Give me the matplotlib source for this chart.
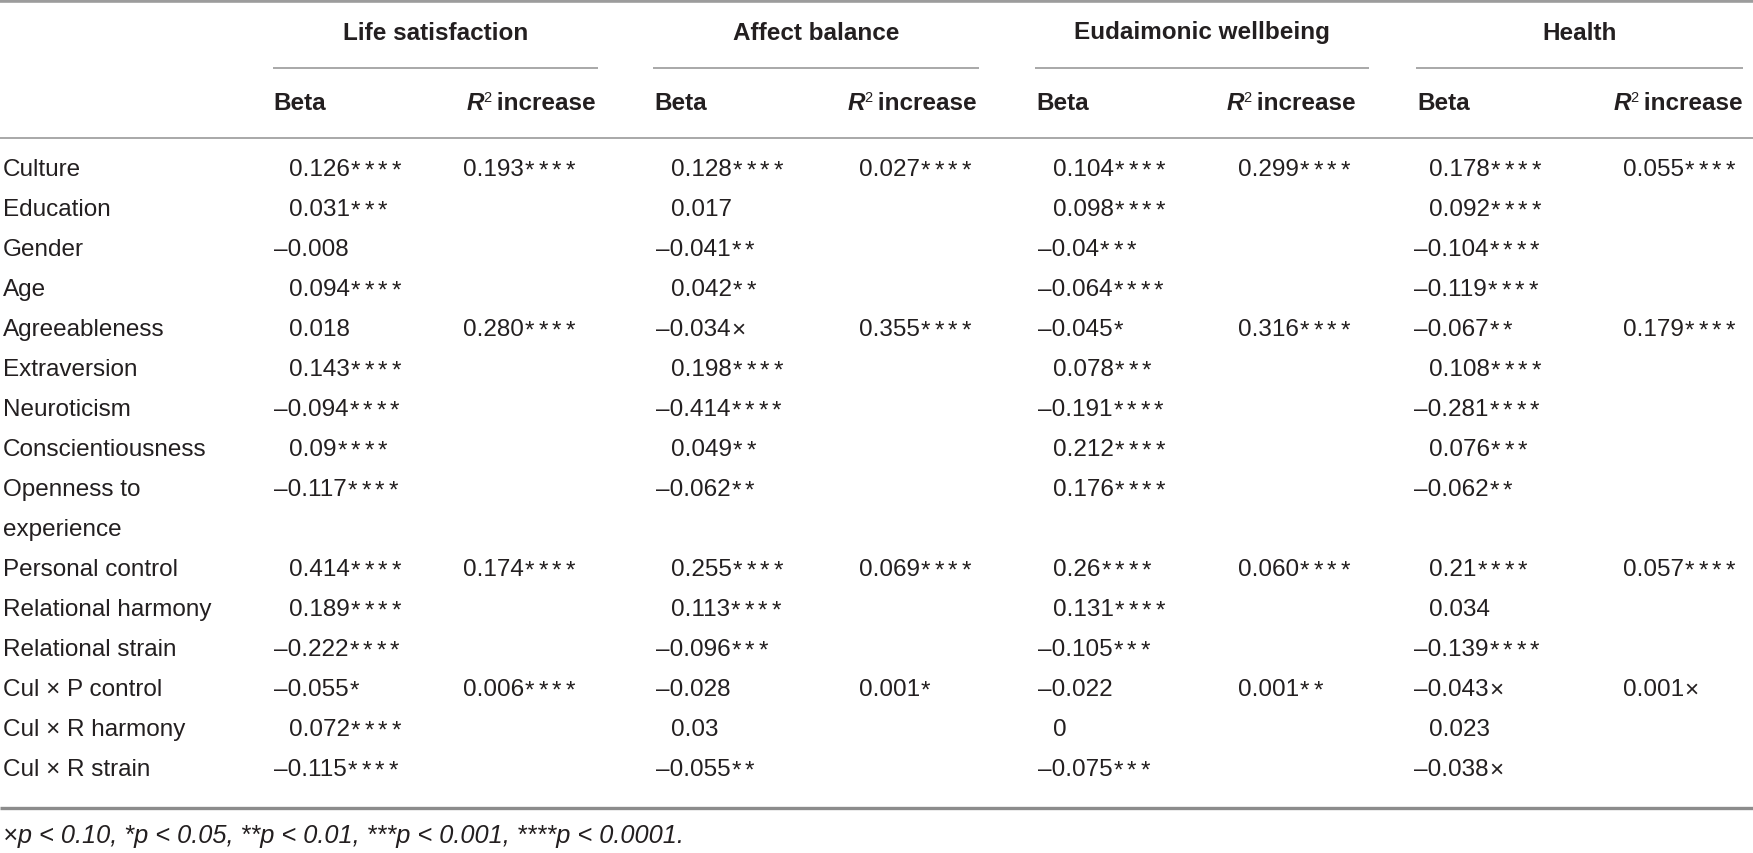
import matplotlib
matplotlib.use("Agg")
import matplotlib.pyplot as plt

# ---------------- data ----------------
row_labels = ["Culture", "Education", "Gender", "Age", "Agreeableness", "Extraversion",
              "Neuroticism", "Conscientiousness", ["Openness to", "experience"],
              "Personal control", "Relational harmony", "Relational strain",
              "Cul × P control", "Cul × R harmony", "Cul × R strain"]

groups = ["Life satisfaction", "Affect balance", "Eudaimonic wellbeing", "Health"]

life_beta = ["0.126****", "0.031***", "–0.008", "0.094****", "0.018", "0.143****",
             "–0.094****", "0.09****", "–0.117****", "0.414****", "0.189****",
             "–0.222****", "–0.055*", "0.072****", "–0.115****"]
life_r2 = ["0.193****", "", "", "", "0.280****", "", "", "", "", "0.174****",
           "", "", "0.006****", "", ""]
affect_beta = ["0.128****", "0.017", "–0.041**", "0.042**", "–0.034×", "0.198****",
               "–0.414****", "0.049**", "–0.062**", "0.255****", "0.113****",
               "–0.096***", "–0.028", "0.03", "–0.055**"]
affect_r2 = ["0.027****", "", "", "", "0.355****", "", "", "", "", "0.069****",
             "", "", "0.001*", "", ""]
eud_beta = ["0.104****", "0.098****", "–0.04***", "–0.064****", "–0.045*", "0.078***",
            "–0.191****", "0.212****", "0.176****", "0.26****", "0.131****",
            "–0.105***", "–0.022", "0", "–0.075***"]
eud_r2 = ["0.299****", "", "", "", "0.316****", "", "", "", "", "0.060****",
          "", "", "0.001**", "", ""]
health_beta = ["0.178****", "0.092****", "–0.104****", "–0.119****", "–0.067**",
               "0.108****", "–0.281****", "0.076***", "–0.062**", "0.21****", "0.034",
               "–0.139****", "–0.043×", "0.023", "–0.038×"]
health_r2 = ["0.055****", "", "", "", "0.179****", "", "", "", "", "0.057****",
             "", "", "0.001×", "", ""]

betas = [life_beta, affect_beta, eud_beta, health_beta]
r2s = [life_r2, affect_r2, eud_r2, health_r2]

footnote = "×p < 0.10, *p < 0.05, **p < 0.01, ***p < 0.001, ****p < 0.0001."

# ---------------- layout ----------------
W, H = 1753, 854
FONT = "Liberation Sans"
FS = 17.5
TXT = "#231f20"
grp_start = [273, 654, 1036, 1417]
grp_line = [(273, 598), (653, 979), (1035, 1369), (1416, 1743)]
r2_hdr_right = [596, 977, 1356, 1743]
beta_pos_x = [289, 671, 1053, 1429]
r2_val_x = [463, 859, 1238, 1623]
row0, row_step = 168, 40
cap_half = 8.5

fig = plt.figure(figsize=(W / 100, H / 100), dpi=100)
ax = fig.add_axes([0, 0, 1, 1])
ax.set_xlim(0, W)
ax.set_ylim(H, 0)
ax.axis("off")
renderer = fig.canvas.get_renderer()

# rules
ax.hlines(2, 0, W, color="#9c9c9c", lw=2.6)
for (a, b) in grp_line:
    ax.hlines(69, a, b, color="#a8a8a8", lw=1.4)
ax.hlines(138.5, 0, W, color="#a8a8a8", lw=1.4)
ax.hlines(809, 0, W, color="#8c8c8c", lw=2.4)

# group titles
for g, (a, b) in zip(groups, grp_line):
    ax.text((a + b) / 2, 31 + cap_half, g, ha="center", va="baseline",
            family=FONT, weight="bold", fontsize=FS, color=TXT)

# sub headers
hdr_base = 102 + cap_half
for i in range(4):
    ax.text(grp_start[i], hdr_base, "Beta", ha="left", va="baseline",
            family=FONT, weight="bold", fontsize=FS, color=TXT)
    t = ax.text(r2_hdr_right[i], hdr_base, " increase", ha="right", va="baseline",
                family=FONT, weight="bold", fontsize=FS, color=TXT)
    x0 = t.get_window_extent(renderer).x0
    t2 = ax.text(x0 + 1, hdr_base - 8, "2", ha="right", va="baseline",
                 family=FONT, fontsize=FS * 0.6, color=TXT)
    x1 = t2.get_window_extent(renderer).x0
    ax.text(x1 + 1, hdr_base, "R", ha="right", va="baseline", family=FONT,
            weight="bold", style="italic", fontsize=FS, color=TXT)


def draw_value(x, y, s):
    if not s:
        return
    k = len(s)
    for ch in ("*", "×"):
        j = s.find(ch)
        if j != -1:
            k = min(k, j)
    num, marks = s[:k], s[k:]
    t = ax.text(x, y, num, ha="left", va="baseline", family=FONT,
                fontsize=FS, color=TXT)
    if marks:
        xe = t.get_window_extent(renderer).x1
        if marks.startswith("×"):
            ax.text(xe + 0.5, y, marks, ha="left", va="baseline", family=FONT,
                    fontsize=FS, color=TXT)
        else:
            for m in range(len(marks)):
                ax.text(xe + 1 + m * 13.5, y + 1, "*", ha="left", va="baseline",
                        family=FONT, fontsize=FS, color=TXT)


# rows
line = 0
for r, lab in enumerate(row_labels):
    yb = row0 + row_step * line + cap_half
    labs = lab if isinstance(lab, list) else [lab]
    for k, l in enumerate(labs):
        ax.text(3, yb + k * row_step, l, ha="left", va="baseline", family=FONT,
                fontsize=FS, color=TXT)
    for g in range(4):
        b = betas[g][r]
        bx = beta_pos_x[g] - 15 if b.startswith("–") else beta_pos_x[g]
        draw_value(bx, yb, b)
        draw_value(r2_val_x[g], yb, r2s[g][r])
    line += len(labs)

ax.text(3, 835 + cap_half, footnote, ha="left", va="baseline", family=FONT,
        style="italic", fontsize=18.3, color=TXT)

fig.savefig("out.png", dpi=100)
